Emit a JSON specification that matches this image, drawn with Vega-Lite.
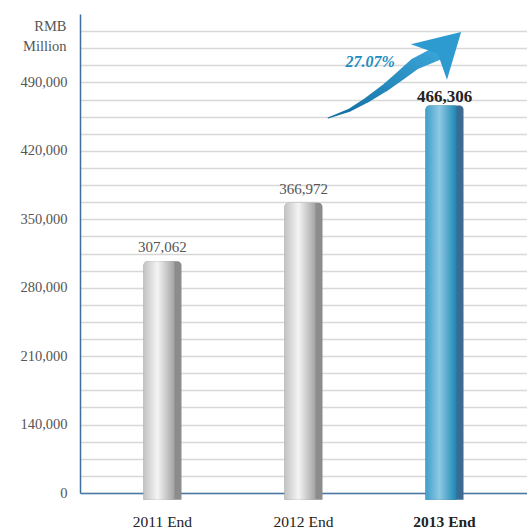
{
  "$schema": "https://vega.github.io/schema/vega-lite/v6.json",
  "width": 447,
  "height": 479,
  "autosize": {"type": "none"},
  "padding": {"left": 80, "top": 14, "right": 0, "bottom": 37},
  "background": "white",
  "config": {"view": {"stroke": null}, "font": "Liberation Serif"},
  "datasets": {
    "assets": [
      {"year": "2011 End", "value": 307062},
      {"year": "2012 End", "value": 366972},
      {"year": "2013 End", "value": 466306}
    ]
  },
  "resolve": {"scale": {"x": "independent", "y": "independent"}},
  "layer": [
    {
      "data": {"name": "assets"},
      "encoding": {
        "x": {
          "field": "year", "type": "nominal", "sort": null,
          "scale": {"paddingInner": 0.5, "paddingOuter": 0.335},
          "axis": {
            "title": null, "ticks": false, "labelAngle": 0,
            "domainColor": "#4a79a6", "domainWidth": 1.5,
            "labelFontSize": 15.5, "labelColor": "#222222", "labelPadding": 21,
            "labelFont": "Liberation Serif",
            "labelFontWeight": {"condition": {"test": "datum.value === '2013 End'", "value": "bold"}, "value": "normal"}
          }
        },
        "y": {
          "field": "value", "type": "quantitative",
          "scale": {"domain": [70000, 560000], "nice": false, "zero": false},
          "axis": {
            "values": [70000, 87500, 105000, 122500, 140000, 157500, 175000, 192500, 210000, 227500, 245000, 262500, 280000, 297500, 315000, 332500, 350000, 367500, 385000, 402500, 420000, 437500, 455000, 472500, 490000, 507500, 525000, 542500],
            "labelExpr": "datum.value % 70000 === 0 ? (datum.value === 70000 ? '0' : format(datum.value, ',')) : ''",
            "grid": true, "gridColor": "#d8d8d8", "gridWidth": 1.5,
            "ticks": false, "domainColor": "#3f6e9c", "domainWidth": 1.5,
            "labelFontSize": 14.5, "labelColor": "#555555", "labelPadding": 13,
            "labelFont": "Liberation Serif",
            "title": ["RMB", "Million"], "titleAngle": 0, "titleAlign": "right",
            "titleBaseline": "alphabetic", "titleX": -14, "titleY": 16,
            "titleLineHeight": 20, "titleFontSize": 14.5, "titleFontWeight": "normal",
            "titleColor": "#555555", "titleFont": "Liberation Serif"
          }
        }
      },
      "layer": [
        {
          "transform": [{"filter": "datum.year !== '2013 End'"}],
          "mark": {"type": "bar", "width": 38, "color": "#8c8c8c", "cornerRadiusTopLeft": 4, "cornerRadiusTopRight": 4},
          "encoding": {"y2": {"datum": 63000}}
        },
        {
          "transform": [{"filter": "datum.year !== '2013 End'"}],
          "mark": {
            "type": "bar", "width": 31, "xOffset": -3.5, "cornerRadiusTopLeft": 4, "cornerRadiusTopRight": 2,
            "color": {"gradient": "linear", "x1": 0, "y1": 0, "x2": 1, "y2": 0,
              "stops": [{"offset": 0, "color": "#c2c2c2"}, {"offset": 0.45, "color": "#f4f4f4"}, {"offset": 1, "color": "#a3a3a3"}]}
          },
          "encoding": {"y2": {"datum": 63000}}
        },
        {
          "transform": [{"filter": "datum.year === '2013 End'"}],
          "mark": {"type": "bar", "width": 38, "color": "#3d6a91", "cornerRadiusTopLeft": 4, "cornerRadiusTopRight": 4},
          "encoding": {"y2": {"datum": 63000}}
        },
        {
          "transform": [{"filter": "datum.year === '2013 End'"}],
          "mark": {
            "type": "bar", "width": 31, "xOffset": -3.5, "cornerRadiusTopLeft": 4, "cornerRadiusTopRight": 2,
            "color": {"gradient": "linear", "x1": 0, "y1": 0, "x2": 1, "y2": 0,
              "stops": [{"offset": 0, "color": "#3f9fca"}, {"offset": 0.45, "color": "#8ec8e3"}, {"offset": 1, "color": "#1a86b4"}]}
          },
          "encoding": {"y2": {"datum": 63000}}
        },
        {
          "transform": [{"filter": "datum.year !== '2013 End'"}],
          "mark": {"type": "text", "dy": -14, "fontSize": 15, "color": "#555555", "font": "Liberation Serif", "baseline": "middle"},
          "encoding": {"text": {"field": "value", "type": "quantitative", "format": ","}}
        },
        {
          "transform": [{"filter": "datum.year === '2013 End'"}],
          "mark": {"type": "text", "dy": -9, "fontSize": 17, "fontWeight": "bold", "color": "#222222", "font": "Liberation Serif", "baseline": "middle"},
          "encoding": {"text": {"field": "value", "type": "quantitative", "format": ","}}
        }
      ]
    },
    {
      "encoding": {
        "x": {"field": "u", "type": "quantitative", "scale": {"domain": [0, 1]}, "axis": null},
        "y": {"field": "v", "type": "quantitative", "scale": {"domain": [70000, 560000], "nice": false, "zero": false}, "axis": null}
      },
      "layer": [
        {
          "data": {"values": [
            {"u": 0.555, "v": 453700, "k": 1},
            {"u": 0.604, "v": 461850, "k": 2},
            {"u": 0.642, "v": 472070, "k": 3},
            {"u": 0.682, "v": 484340, "k": 4},
            {"u": 0.716, "v": 496600, "k": 5},
            {"u": 0.749, "v": 508870, "k": 6},
            {"u": 0.7964, "v": 519100, "k": 7}
          ]},
          "mark": {"type": "trail",
            "color": {"gradient": "linear", "x1": 0, "y1": 1, "x2": 1, "y2": 0,
              "stops": [{"offset": 0, "color": "#0f6c9f"}, {"offset": 1, "color": "#3da8da"}]}},
          "encoding": {
            "order": {"field": "k", "type": "quantitative"},
            "size": {"field": "k", "type": "quantitative", "scale": {"domain": [1, 7], "range": [1, 14]}, "legend": null}
          }
        },
        {
          "data": {"values": [{"u": 0.8166, "v": 526250}]},
          "mark": {"type": "point", "filled": true, "opacity": 1, "color": "#2d9ad0", "size": 1936, "angle": 47,
            "shape": "M0,-1L1.15,0.95L0,0.45L-1.15,1.05Z"}
        },
        {
          "data": {"values": [{"u": 0.649, "v": 510900, "label": "27.07%"}]},
          "mark": {"type": "text", "fontSize": 16, "fontWeight": "bold", "fontStyle": "italic", "color": "#1b8dc0", "font": "Liberation Serif", "baseline": "middle"},
          "encoding": {"text": {"field": "label", "type": "nominal"}}
        }
      ]
    }
  ]
}
